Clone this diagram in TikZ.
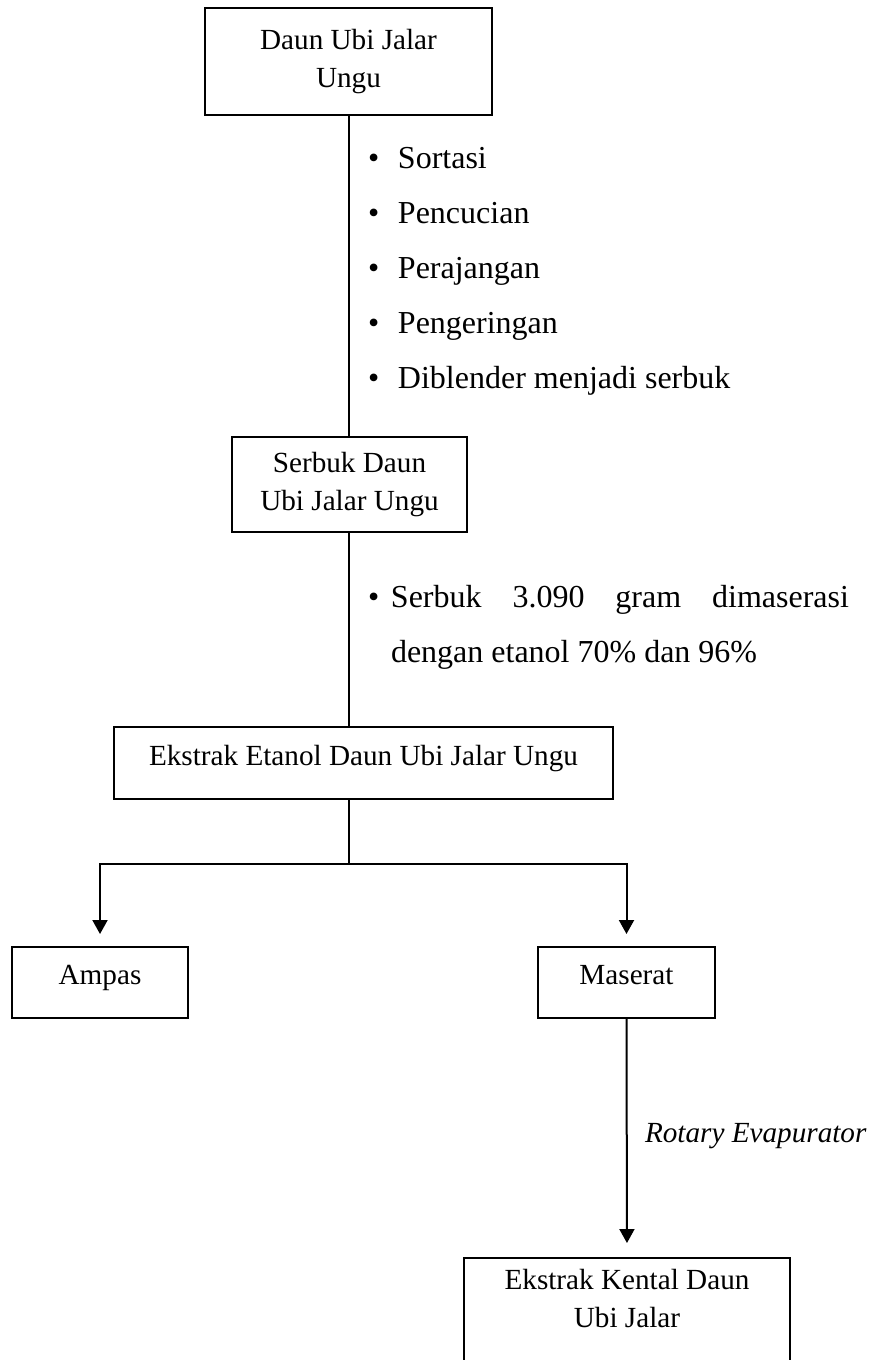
\documentclass[tikz,border=0pt]{standalone}
\usepackage{fontspec}
\setmainfont{Liberation Serif}
\usetikzlibrary{arrows.meta,calc}
\begin{document}
\begin{tikzpicture}[x=0.5pt,y=-0.5pt,
  line width=1pt,
  boxnode/.style={draw, rectangle, inner sep=0pt, align=center, font=\fontsize{14.6}{19}\selectfont},
  onebox/.style={boxnode, text height=0.7em, text depth=0.5em},
  itemtext/.style={anchor=base west, inner sep=0pt, font=\fontsize{16}{20}\selectfont},
  conn/.style={line width=1pt},
  arr/.style={conn, -{Triangle[length=7pt,width=7.5pt]}, shorten >=6pt},
]
\useasboundingbox (0,0) rectangle (886,1360);
\coordinate (bot) at (0,1360);

% boxes
\node[boxnode, minimum width=143.5pt, minimum height=53.5pt] (b1) at (348.5,61.5) {Daun Ubi Jalar\\Ungu};
\node[boxnode, minimum width=117.5pt, minimum height=47.5pt] (b2) at (349.5,484.5) {Serbuk Daun\\Ubi Jalar Ungu};
\node[onebox, minimum width=249.5pt, minimum height=36pt] (b3) at (363.5,763) {Ekstrak Etanol Daun Ubi Jalar Ungu};
\node[onebox, minimum width=88pt, minimum height=35.5pt] (amp) at (100,982.5) {Ampas};
\node[onebox, minimum width=88.5pt, minimum height=35.5pt] (mas) at (626.5,982.5) {Maserat};
\node[boxnode, draw=none, anchor=north, minimum width=162pt, inner ysep=5pt] (ek) at (627,1258) {Ekstrak Kental Daun\\Ubi Jalar};
\draw (ek.north west |- bot) -- (ek.north west) -- (ek.north east) -- (ek.north east |- bot);

% process notes
\node[itemtext] (s1) at (367,168) {\makebox[15pt][l]{\textbullet}Sortasi};
\node[itemtext] (s2) at (367,223) {\makebox[15pt][l]{\textbullet}Pencucian};
\node[itemtext] (s3) at (367,278) {\makebox[15pt][l]{\textbullet}Perajangan};
\node[itemtext] (s4) at (367,333) {\makebox[15pt][l]{\textbullet}Pengeringan};
\node[itemtext] (s5) at (367,388) {\makebox[15pt][l]{\textbullet}Diblender menjadi serbuk};

\node[itemtext] (m1) at (367,607) {\makebox[11.5pt][l]{\textbullet}\makebox[229pt][s]{Serbuk\hfill 3.090\hfill gram\hfill dimaserasi}};
\node[itemtext] (m2) at (390,662) {dengan etanol 70\% dan 96\%};

\node[anchor=base west, inner sep=0pt, font=\fontsize{14.6}{19}\selectfont\itshape] (rot) at (644,1142) {Rotary Evapurator};

% connectors
\coordinate (split) at (349,864);
\draw[conn] (b1.south) -- (b1.south |- b2.north);
\draw[conn] (b2.south -| split) -- (b3.north -| split);
\draw[conn] (b3.south -| split) -- (split);
\draw[arr] (split) -| (amp.north);
\draw[arr] (split) -| (mas.north);
\draw[arr, shorten >=7.5pt] (mas.south) -- (ek.north);
\end{tikzpicture}
\end{document}
